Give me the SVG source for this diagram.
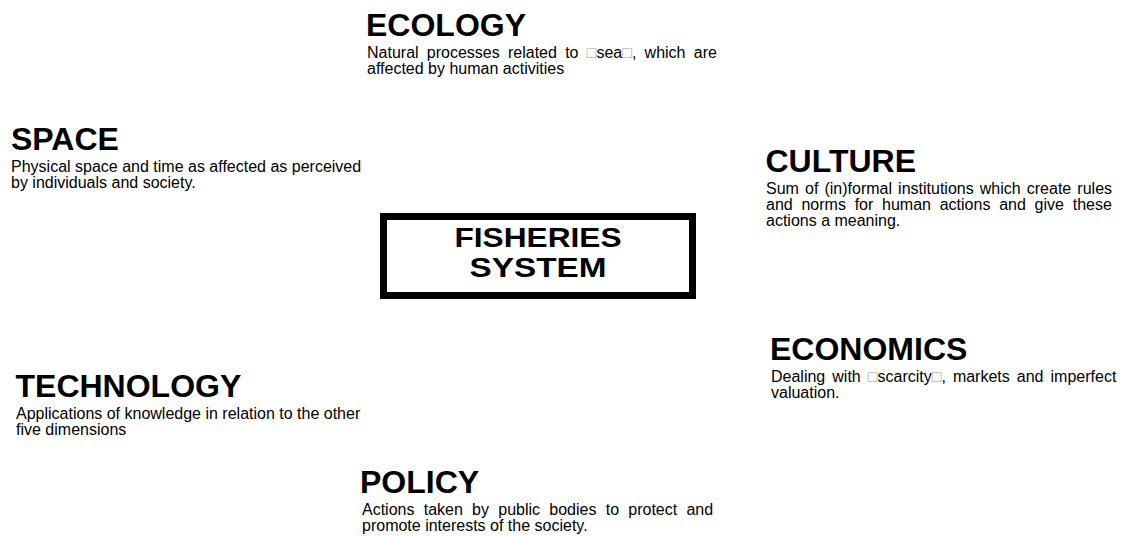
<svg xmlns="http://www.w3.org/2000/svg" width="1129" height="536" viewBox="0 0 1129 536">
  <style>
    .head { font-family: "Liberation Sans", Arial, sans-serif; font-weight: bold; font-size: 32px; fill: #000; }
    .desc { font-family: "Liberation Sans", Arial, sans-serif; font-size: 16px; fill: #000; }
    .tofu { fill: #9a9a9a; }
    .core { font-family: "Liberation Sans", Arial, sans-serif; font-weight: bold; font-size: 28px; fill: #000; text-anchor: middle; }
    .frame { fill: #fff; stroke: #000; stroke-width: 7; }
  </style>
  <rect width="1129" height="536" fill="#fff"/>

  <!-- central node -->
  <g id="fisheries-system">
    <rect class="frame" x="383.5" y="216.5" width="309" height="79"/>
    <text class="core" x="538" y="247" textLength="167" lengthAdjust="spacingAndGlyphs">FISHERIES</text>
    <text class="core" x="538" y="277" textLength="137" lengthAdjust="spacingAndGlyphs">SYSTEM</text>
  </g>

  <!-- six dimensions around the core -->
  <g id="ecology">
    <text class="head" x="366" y="35.5">ECOLOGY</text>
    <text class="desc" x="367" y="57.5" word-spacing="3.8">Natural processes related to <tspan class="tofu">□</tspan>sea<tspan class="tofu">□</tspan>, which are</text>
    <text class="desc" x="367" y="73.5">affected by human activities</text>
  </g>

  <g id="space">
    <text class="head" x="11" y="150">SPACE</text>
    <text class="desc" x="11" y="172">Physical space and time as affected as perceived</text>
    <text class="desc" x="11" y="188">by individuals and society.</text>
  </g>

  <g id="culture">
    <text class="head" x="765.5" y="172">CULTURE</text>
    <text class="desc" x="766" y="194" word-spacing="1.65">Sum of (in)formal institutions which create rules</text>
    <text class="desc" x="766" y="210" word-spacing="4.3">and norms for human actions and give these</text>
    <text class="desc" x="766" y="226">actions a meaning.</text>
  </g>

  <g id="economics">
    <text class="head" x="770" y="360">ECONOMICS</text>
    <text class="desc" x="771" y="382" word-spacing="2.6">Dealing with <tspan class="tofu">□</tspan>scarcity<tspan class="tofu">□</tspan>, markets and imperfect</text>
    <text class="desc" x="771" y="398">valuation.</text>
  </g>

  <g id="technology">
    <text class="head" x="15.5" y="397">TECHNOLOGY</text>
    <text class="desc" x="16" y="419">Applications of knowledge in relation to the other</text>
    <text class="desc" x="16" y="435">five dimensions</text>
  </g>

  <g id="policy">
    <text class="head" x="360" y="493">POLICY</text>
    <text class="desc" x="362" y="515" word-spacing="4.8">Actions taken by public bodies to protect and</text>
    <text class="desc" x="362" y="531">promote interests of the society.</text>
  </g>

  <!-- no connectors are drawn between the dimensions -->
  <g id="connectors"/>
</svg>
